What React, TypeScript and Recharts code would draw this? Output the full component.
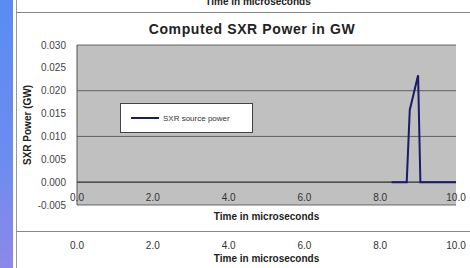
import React from 'react';
import { LineChart, Line, XAxis, YAxis, CartesianGrid, ReferenceLine, Legend } from 'recharts';

const timeUs = [8.3, 8.7, 8.78, 9.0, 9.06, 10.0];
const sxrPowerGW = [0, 0, 0.0158, 0.0234, 0, 0];
const yTicks = [-0.005, 0, 0.005, 0.01, 0.015, 0.02, 0.025, 0.03];
const xTicks = [0, 2, 4, 6, 8, 10];
const seriesName = 'SXR source power';
const chartTitle = 'Computed SXR Power in GW';
const xTitle = 'Time in microseconds';
const yTitle = 'SXR Power (GW)';

const rows = timeUs.map((t, i) => ({ t, p: sxrPowerGW[i] }));

const FONT = '"Liberation Sans", Arial, sans-serif';

const XTick = (props: any) => {
  const { x, y, payload } = props;
  return (
    <text x={x} y={y} textAnchor="middle" fontSize={10} fontFamily={FONT} fill="#333">
      {Number(payload.value).toFixed(1)}
    </text>
  );
};

const LegendBox = () => (
  <div
    style={{
      width: 133,
      height: 30,
      boxSizing: 'border-box',
      background: '#fff',
      border: '1px solid #444',
      display: 'flex',
      alignItems: 'center',
      paddingLeft: 10,
      fontFamily: FONT,
      fontSize: 8,
      color: '#333',
    }}
  >
    <span style={{ display: 'inline-block', width: 28, height: 2, background: '#1b1b6b', marginRight: 4 }} />
    <span>{seriesName}</span>
  </div>
);

export default function App() {
  return (
    <div style={{ position: 'absolute', left: 0, top: 0, width: 470, height: 268, background: '#fff', overflow: 'hidden', fontFamily: FONT }}>
      <div style={{ position: 'absolute', left: 0, top: 0, width: 13, height: 268, background: 'linear-gradient(#5a8cf0, #6d8cf0 60%, #8c88e8)' }} />
      <div style={{ position: 'absolute', left: 16, top: 0, width: 1, height: 268, background: '#999' }} />
      <div style={{ position: 'absolute', left: 16, top: 12, width: 454, height: 1, background: '#888' }} />
      <div style={{ position: 'absolute', left: 16, top: 231, width: 454, height: 1, background: '#888' }} />
      <div style={{ position: 'absolute', left: 0, top: -4, width: 516, textAlign: 'center', fontSize: 10, fontWeight: 'bold', lineHeight: '12px', color: '#222' }}>{xTitle}</div>
      <div style={{ position: 'absolute', left: 0, top: 21, width: 504, textAlign: 'center', fontSize: 14, letterSpacing: 0.6, fontWeight: 'bold', lineHeight: '16px', color: '#222' }}>{chartTitle}</div>

      <div style={{ position: 'absolute', left: 0, top: 0 }}>
        <LineChart width={470} height={268} data={rows} margin={{ top: 45, right: 14, bottom: 0, left: 17 }}>
          <CartesianGrid vertical={false} fill="#c0c0c0" stroke="#4a4a4a" strokeOpacity={0.8} />
          <XAxis
            dataKey="t"
            type="number"
            domain={[0, 10]}
            ticks={xTicks}
            axisLine={false}
            tickLine={false}
            tickSize={0}
            tickMargin={0}
            height={63}
            tick={(p: any) => <XTick {...p} y={p.y - 4} />}
            label={{ value: xTitle, position: 'insideTop', offset: 8, fontSize: 10, fontWeight: 'bold', fill: '#222', fontFamily: FONT }}
          />
          <YAxis
            type="number"
            domain={[-0.005, 0.03]}
            ticks={yTicks}
            width={60}
            axisLine={{ stroke: '#555' }}
            tickLine={false}
            tickSize={6}
            tickMargin={5}
            tickFormatter={(v: number) => v.toFixed(3)}
            tick={{ fontSize: 10, fill: '#444', fontFamily: FONT }}
            label={{ value: yTitle, angle: -90, position: 'insideLeft', offset: 10, fontSize: 10, fontWeight: 'bold', fill: '#222', fontFamily: FONT, style: { textAnchor: 'middle' } }}
          />
          <ReferenceLine y={0} stroke="#333" />
          <Legend
            layout="horizontal"
            verticalAlign="middle"
            align="center"
            content={<LegendBox />}
            wrapperStyle={{ position: 'absolute', left: 120, top: 103, width: 133, height: 30 }}
          />
          <Line dataKey="p" name={seriesName} stroke="#1b1b6b" strokeWidth={2} dot={false} isAnimationActive={false} />
        </LineChart>
      </div>

      <div style={{ position: 'absolute', left: 0, top: 226 }}>
        <LineChart width={470} height={42} data={rows} margin={{ top: 4, right: 14, bottom: 0, left: 77 }}>
          <XAxis
            dataKey="t"
            type="number"
            domain={[0, 10]}
            ticks={xTicks}
            axisLine={false}
            tickLine={false}
            tickSize={0}
            tickMargin={0}
            height={34}
            tick={(p: any) => <XTick {...p} y={p.y + 15} />}
            label={{ value: xTitle, position: 'insideTop', offset: 21, fontSize: 10, fontWeight: 'bold', fill: '#222', fontFamily: FONT }}
          />
          <YAxis hide domain={[0, 1]} />
        </LineChart>
      </div>
    </div>
  );
}
